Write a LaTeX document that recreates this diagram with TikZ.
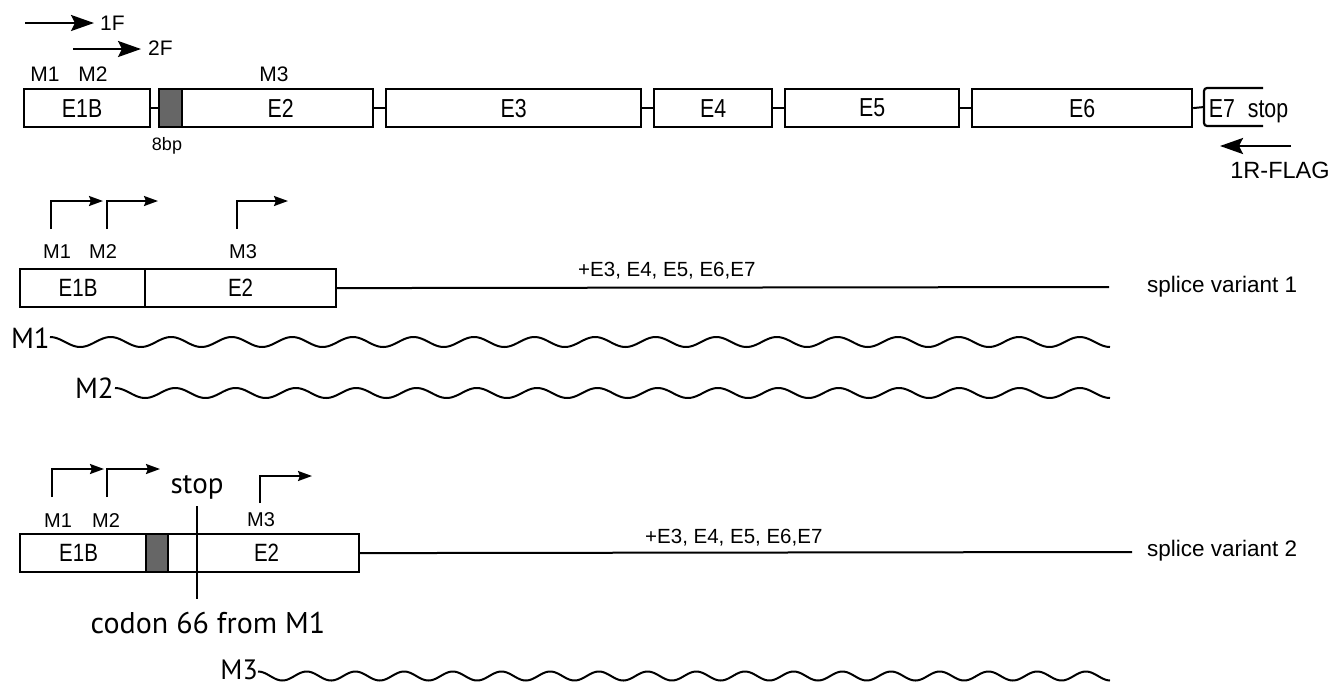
\documentclass[tikz,border=0pt]{standalone}
\usepackage{fontspec}
\setmainfont{Liberation Sans}
\newfontfamily\narrowfont[FakeStretch=0.82]{Liberation Sans}
\newfontfamily\humanist{PT Sans}
\usetikzlibrary{arrows.meta}
\tikzset{
  ln/.style={line width=2pt, draw=black},
  exon/.style={draw=black, line width=2.2pt, fill=white, inner sep=0pt, anchor=north west,
    minimum height=38pt, font=\narrowfont\fontsize{26}{28}\selectfont},
  graybox/.style={draw=black, line width=2.2pt, fill=black!60, inner sep=0pt, anchor=north west,
    minimum height=38pt},
  efont/.style={font=\narrowfont\fontsize{26}{28}\selectfont},
  mlab/.style={font=\fontsize{20}{22}\selectfont, inner sep=0pt, anchor=base},
  smalltxt/.style={font=\fontsize{20.5}{22}\selectfont, inner sep=0pt, anchor=base west},
  primer/.style={font=\fontsize{21}{23}\selectfont, inner sep=0pt},
  svtxt/.style={font=\fontsize{22.5}{24}\selectfont, inner sep=0pt, anchor=base west},
  hlab/.style={font=\humanist\fontsize{29}{31}\selectfont, inner sep=0pt},
  bigarrow/.style={line width=2.4pt, -{Stealth[length=23pt, width=16pt, inset=4pt]}},
  bent/.style={line width=2pt, -{Stealth[length=14pt, width=10pt, inset=2pt]}},
  wave/.style={line width=2pt, line join=round},
}
\begin{document}
\begin{tikzpicture}[x=1pt, y=-1pt]
\useasboundingbox (0,0) rectangle (1344,686);
\fill[white] (0,0) rectangle (1344,686);

% ---------- top: gene structure ----------
\coordinate (f1s) at (25,23);
\coordinate (f1e) at (94,23);
\node[primer, anchor=base west] (f1) at (100,30) {1F};
\draw[bigarrow] (f1s) -- (f1e);
\coordinate (f2s) at (73,49);
\coordinate (f2e) at (141,49);
\node[primer, anchor=base west] (f2) at (148,55) {2F};
\draw[bigarrow] (f2s) -- (f2e);

\node[mlab, font=\fontsize{21}{23}\selectfont] (tm1) at (45,81) {M1};
\node[mlab, font=\fontsize{21}{23}\selectfont] (tm2) at (93,81) {M2};
\node[mlab, font=\fontsize{21}{23}\selectfont] (tm3) at (274,81) {M3};

\node[exon, minimum width=126pt] (t1) at (23,88) {E1B\kern10pt};
\node[graybox, minimum width=23pt] (tg) at (158,88) {};
\node[exon, minimum width=191pt] (t2) at (181,88) {E2\kern-6pt};
\node[exon, minimum width=255pt] (t3) at (385,88) {E3};
\node[exon, minimum width=118pt] (t4) at (653,88) {E4};
\node[exon, minimum width=174pt] (t5) at (784,88) {E5};
\node[exon, minimum width=220pt] (t6) at (971,88) {E6};
\draw[line width=2.2pt, rounded corners=3pt] (1263,88) -- (1204,88) -- (1204,126) -- (1263,126);
\coordinate (t7w) at (1204,107);
\node[efont, inner sep=0pt, anchor=base] (t7) at (1222,117.5) {E7};
\node[efont, inner sep=0pt, anchor=base] (tstop) at (1268,117.5) {stop};

\draw[ln] (t1.east) -- (tg.west);
\draw[ln] (t2.east) -- (t3.west);
\draw[ln] (t3.east) -- (t4.west);
\draw[ln] (t4.east) -- (t5.west);
\draw[ln] (t5.east) -- (t6.west);
\draw[ln] (t6.east) -- (t7w);

\node[font=\fontsize{18}{20}\selectfont, inner sep=0pt, anchor=base] (bp) at (167,150) {8bp};

\coordinate (rs) at (1291,146);
\coordinate (re) at (1220,146);
\draw[bigarrow] (rs) -- (re);
\node[primer, font=\fontsize{23.5}{25}\selectfont, anchor=base] (r1) at (1280,178) {1R-FLAG};

% ---------- splice variant 1 ----------
\coordinate (a1s) at (51,229); \coordinate (a1c) at (51,201); \coordinate (a1e) at (103,201);
\coordinate (a2s) at (107,229); \coordinate (a2c) at (107,201); \coordinate (a2e) at (158,201);
\coordinate (a3s) at (237,229); \coordinate (a3c) at (237,201); \coordinate (a3e) at (288,201);
\draw[bent] (a1s) -- (a1c) -- (a1e);
\draw[bent] (a2s) -- (a2c) -- (a2e);
\draw[bent] (a3s) -- (a3c) -- (a3e);
\node[mlab] (v1m1) at (57,258) {M1};
\node[mlab] (v1m2) at (103,258) {M2};
\node[mlab] (v1m3) at (243,258) {M3};

\node[exon, minimum width=125pt, font=\narrowfont\fontsize{25}{27}\selectfont] (v1a) at (19,268) {E1B\kern9pt};
\node[exon, minimum width=191pt, font=\narrowfont\fontsize{25}{27}\selectfont] (v1b) at (144,268) {E2};
\coordinate (v1end) at (1109,287);
\draw[ln] (v1b.east) -- (v1end);
\node[smalltxt] (v1t) at (578,276) {+E3, E4, E5, E6,E7};
\node[svtxt] (sv1) at (1147,292) {splice variant 1};

\node[hlab, anchor=base east] (w1) at (50,348) {M1};
\draw[wave] plot[domain=50:1110, samples=500] (\x, {342 - 5*cos(5.9435*(\x-50))});
\node[hlab, anchor=base east] (w2) at (114,398) {M2};
\draw[wave] plot[domain=115:1110, samples=500] (\x, {393 - 5*cos(5.9701*(\x-115))});

% ---------- splice variant 2 ----------
\coordinate (b1s) at (52,497); \coordinate (b1c) at (52,469); \coordinate (b1e) at (104,469);
\coordinate (b2s) at (107,497); \coordinate (b2c) at (107,469); \coordinate (b2e) at (160,469);
\coordinate (b3s) at (260,503); \coordinate (b3c) at (260,476); \coordinate (b3e) at (312,476);
\draw[bent] (b1s) -- (b1c) -- (b1e);
\draw[bent] (b2s) -- (b2c) -- (b2e);
\draw[bent] (b3s) -- (b3c) -- (b3e);
\node[mlab] (v2m1) at (58,527) {M1};
\node[mlab] (v2m2) at (106,527) {M2};
\node[mlab] (v2m3) at (261,526) {M3};
\node[hlab, anchor=base] (stop2) at (197,493) {stop};

\node[exon, minimum width=126pt, font=\narrowfont\fontsize{25}{27}\selectfont] (v2a) at (19,533) {E1B\kern9pt};
\node[graybox, minimum width=22pt] (v2g) at (145,533) {};
\node[exon, minimum width=191pt, font=\narrowfont\fontsize{25}{27}\selectfont] (v2b) at (167,533) {E2\kern-6pt};
\coordinate (sts) at (197,506);
\coordinate (ste) at (197,599);
\draw[ln] (sts) -- (ste);
\node[hlab, font=\humanist\fontsize{30}{32}\selectfont, anchor=base] (codon) at (208,633) {codon 66 from M1};
\coordinate (v2end) at (1132,552);
\draw[ln] (v2b.east) -- (v2end);
\node[smalltxt] (v2t) at (645,543) {+E3, E4, E5, E6,E7};
\node[svtxt] (sv2) at (1147,556) {splice variant 2};

\node[hlab, font=\humanist\fontsize{28}{30}\selectfont, anchor=base east] (w3) at (258,679) {M3};
\draw[wave] plot[domain=258:1110, samples=500] (\x, {676 - 4.5*cos(7.3922*(\x-258))});
\end{tikzpicture}
\end{document}
